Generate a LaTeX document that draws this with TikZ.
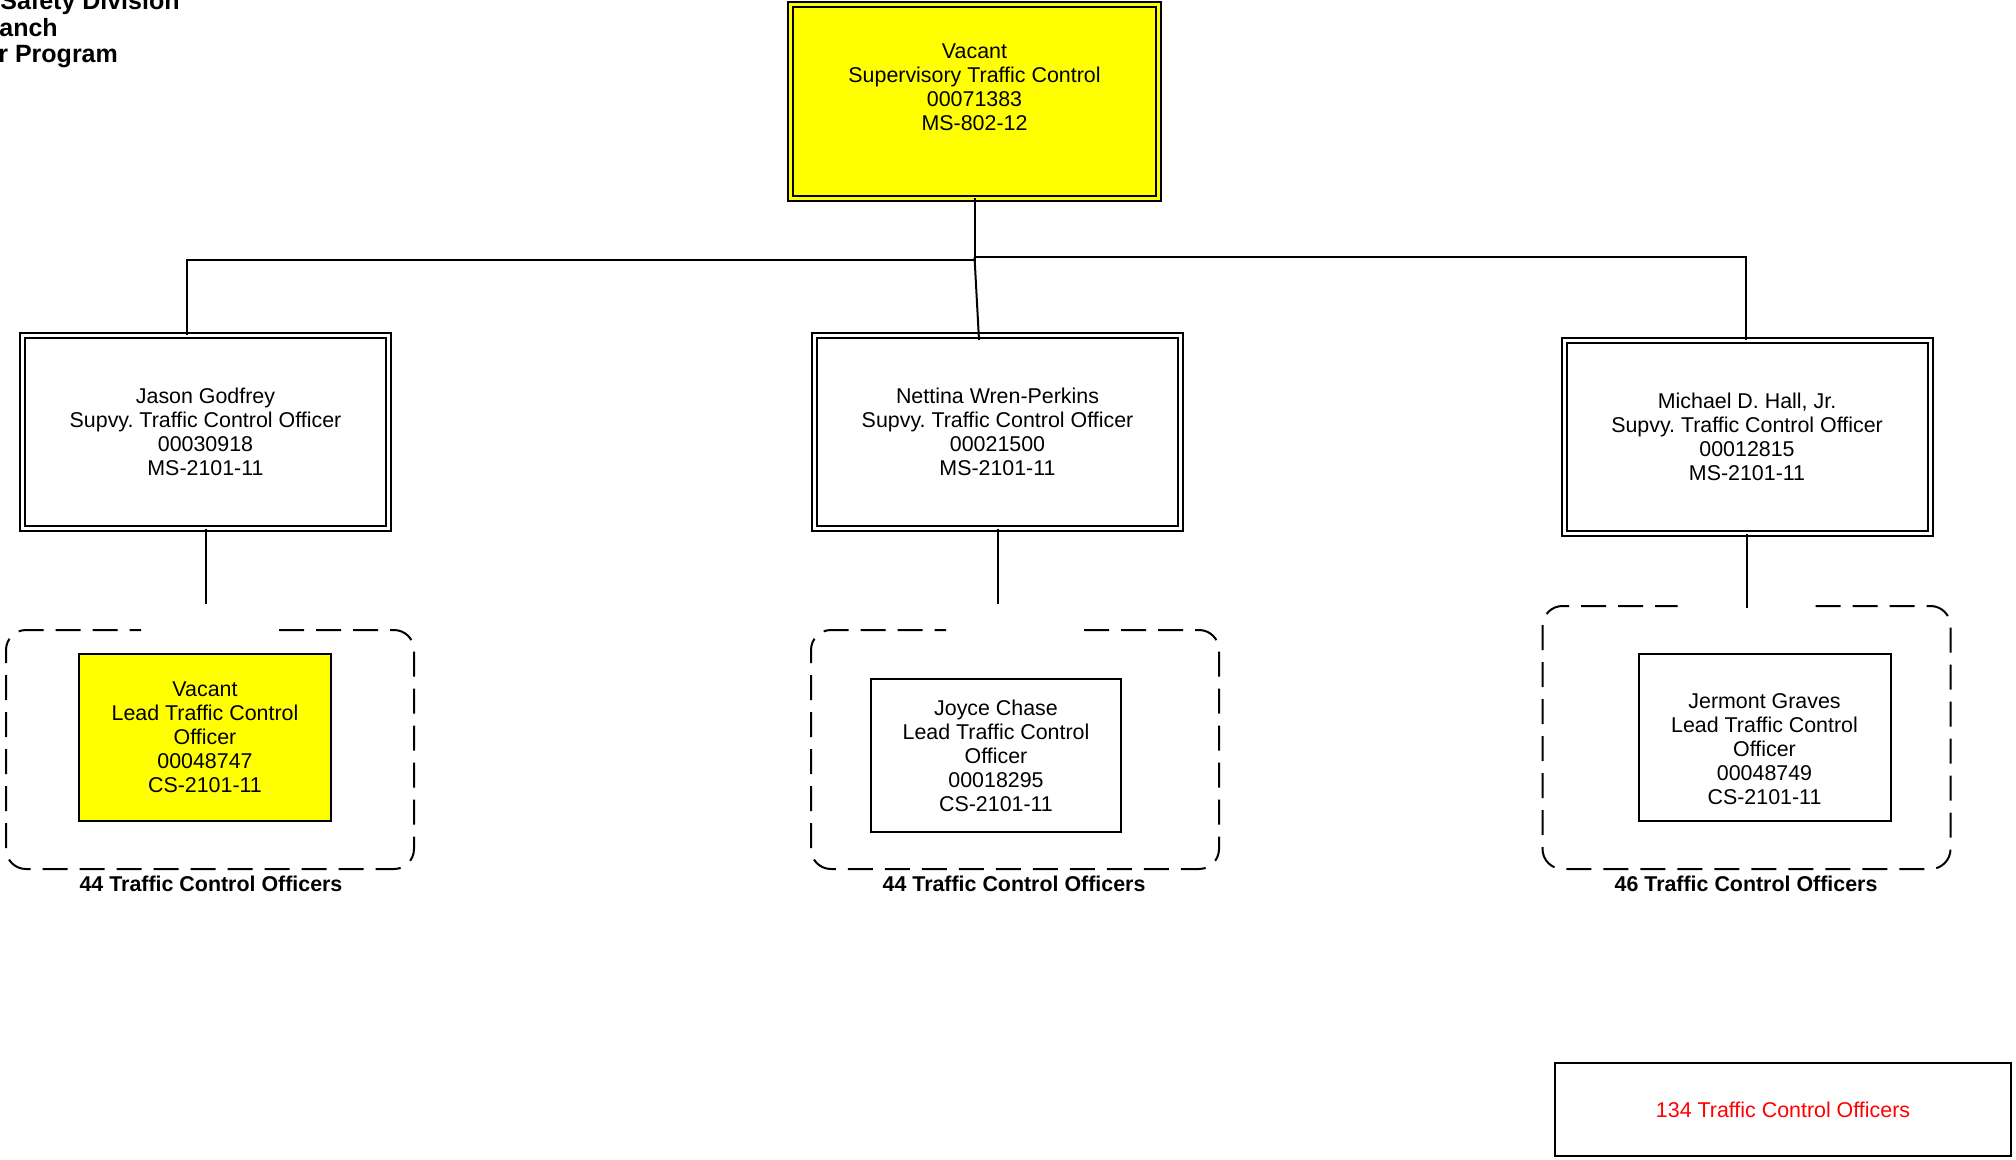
\documentclass[tikz,border=0pt]{standalone}
\usepackage{fontspec}
\setmainfont{Liberation Sans}
\definecolor{vy}{RGB}{255,255,0}
\definecolor{vred}{RGB}{255,0,0}
\frenchspacing
\begin{document}
\begin{tikzpicture}[x=0.5pt,y=-0.5pt,
  txt/.style={font=\fontsize{10.7pt}{12pt}\selectfont, align=center, inner sep=0pt, outer sep=0pt},
  boxbase/.style={txt, draw=black, rectangle},
  dblbox/.style={boxbase, line width=1pt, double distance=1.5pt, double=white, minimum width=183pt, minimum height=96.5pt},
  topbox/.style={dblbox, fill=vy, double=vy, minimum width=184pt, minimum height=97pt},
  leadbox/.style={boxbase, line width=1pt, minimum width=126pt, minimum height=83.5pt},
  grpbox/.style={rectangle, draw=none, inner sep=0pt, outer sep=0pt, minimum width=204pt},
  grpline/.style={line width=1pt, dash pattern=on 12.5pt off 6pt, rounded corners=10pt},
  conn/.style={line width=1pt},
  cnt/.style={font=\bfseries\fontsize{10.7pt}{12pt}\selectfont, inner sep=0pt},
  ttl/.style={font=\bfseries\fontsize{12.5pt}{13pt}\selectfont, inner sep=0pt, anchor=base west}
]
\useasboundingbox (0,0) rectangle (2016,1160);
\clip (0,0) rectangle (2016,1160);

% title (cut at the page edge)
\node[ttl] (t1) at (0,10) {Safety Division};
\node[ttl] (t2) at (-1,37) {anch};
\node[ttl] (t3) at (-2,63) {r Program};

% top box
\node[topbox] (top) at (974.5,101.5) {};
\node[txt] (toptxt) at (974.5,87) {Vacant\\Supervisory Traffic Control\\00071383\\MS-802-12};

% supervisors
\node[dblbox] (s1) at (205.5,432) {Jason Godfrey\\Supvy. Traffic Control Officer\\00030918\\MS-2101-11};
\node[dblbox] (s2) at (997.5,432) {Nettina Wren-Perkins\\Supvy. Traffic Control Officer\\00021500\\MS-2101-11};
\node[dblbox] (s3) at (1747,437) {Michael D. Hall, Jr.\\Supvy. Traffic Control Officer\\00012815\\MS-2101-11};

% connectors from top
\coordinate (c1) at (187,260);
\coordinate (c3) at (1746,257);
\coordinate (c2) at (979,340);
\draw[conn] (top.south) -- (top.south |- c1) -- (c1) -- (c1 |- s1.north);
\draw[conn] (top.south) -- (top.south |- c3) -- (c3) -- (c3 |- s3.north);
\draw[conn] (top.south |- c3) -- (c2);

% groups (dashed frames with an opening on top)
\node[grpbox, minimum height=119.5pt] (g1) at (210,749.5) {};
\node[grpbox, minimum height=119.5pt] (g2) at (1015,749.5) {};
\node[grpbox, minimum height=131.5pt] (g3) at (1746.5,737.5) {};
\foreach \g in {g1,g2,g3}{
  \draw[grpline] ([xshift=34.5pt]\g.north) -- (\g.north east) -- (\g.south east)
    -- (\g.south west) -- (\g.north west) -- ([xshift=-34.5pt]\g.north);
}

% lead boxes
\node[leadbox, fill=vy] (l1) at (205,737.5) {Vacant\\Lead Traffic Control\\Officer\\00048747\\CS-2101-11};
\node[leadbox, minimum width=125pt, minimum height=76.5pt] (l2) at (996,755.5) {Joyce Chase\\Lead Traffic Control\\Officer\\00018295\\CS-2101-11};
\node[leadbox] (l3) at (1764.5,737.5) {};
\node[txt] (l3txt) at (1764.5,749.5) {Jermont Graves\\Lead Traffic Control\\Officer\\00048749\\CS-2101-11};

% connectors from supervisors toward groups
\coordinate (e1) at (205.5,604);
\coordinate (e2) at (997.5,604);
\coordinate (e3) at (1747,608);
\draw[conn] (s1.south) -- (e1);
\draw[conn] (s2.south) -- (e2);
\draw[conn] (s3.south) -- (e3);

% counts
\node[cnt] (n1) at (211,884) {44 Traffic Control Officers};
\node[cnt] (n2) at (1014,884) {44 Traffic Control Officers};
\node[cnt] (n3) at (1746,884) {46 Traffic Control Officers};

% total
\node[boxbase, line width=1pt, minimum width=228pt, minimum height=46.5pt, text=vred] (tot) at (1783,1109.5) {134 Traffic Control Officers};
\end{tikzpicture}
\end{document}
